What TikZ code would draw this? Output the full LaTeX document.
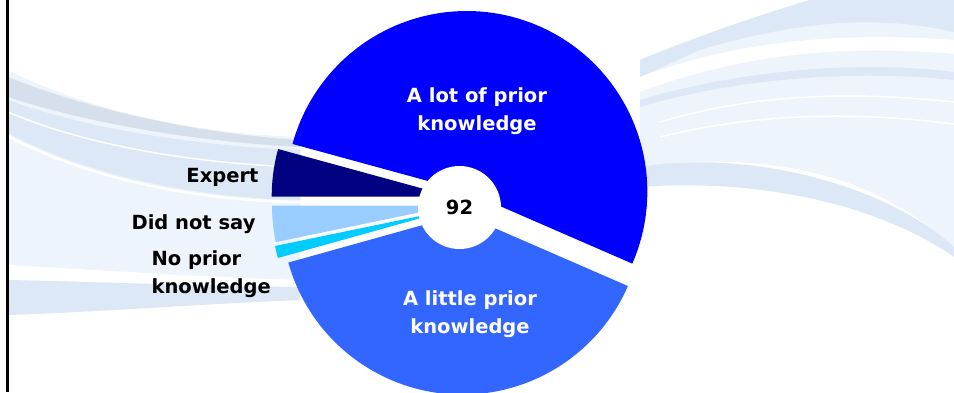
\documentclass[tikz,border=0pt]{standalone}
\usepackage{fontspec}
\setmainfont{DejaVu Sans}
\usepackage{tikz}
\definecolor{lotblue}{RGB}{0,0,255}
\definecolor{littleblue}{RGB}{51,102,255}
\definecolor{expertblue}{RGB}{0,0,128}
\definecolor{saysblue}{RGB}{153,204,255}
\definecolor{noneblue}{RGB}{0,204,255}
\definecolor{swoosh}{RGB}{220,232,246}
\definecolor{greyswoosh}{RGB}{214,224,236}
\definecolor{paleswoosh}{RGB}{238,244,251}
\tikzset{
    > = latex
}

\begin{document}
\begin{tikzpicture}[x=1pt, y=1pt]
        \tikzstyle{inlbl}=[text=white, font=\fontsize{19.5}{28}\selectfont\bfseries, align=center]
        \tikzstyle{outlbl}=[text=black, font=\fontsize{19.5}{28}\selectfont\bfseries]
        \useasboundingbox (0,0) rectangle (954,392);
        \clip (0,0) rectangle (954,392);
        \fill[white] (0,0) rectangle (954,392);
        \fill[paleswoosh] (8,322) .. controls (90,280) and (200,258) .. (300,255) -- (300,92) .. controls (200,90) and (90,82) .. (8,77) -- cycle;
        \fill[greyswoosh] (8,315) .. controls (90,282) and (200,258) .. (300,252) -- (300,245) .. controls (200,250) and (90,268) .. (8,295) -- cycle;
        \fill[swoosh] (8,292) .. controls (90,262) and (200,246) .. (300,242) -- (300,192) .. controls (200,194) and (90,215) .. (8,259) -- cycle;
        \draw[white, line width=2.5] (8,256) .. controls (90,212) and (200,191) .. (300,190);
        \draw[white, line width=1.5] (8,280) .. controls (90,245) and (200,228) .. (300,225);
        \fill[white] (8,127) .. controls (100,122) and (200,115) .. (300,112) -- (300,105) .. controls (200,106) and (100,110) .. (8,112) -- cycle;
        \fill[swoosh] (8,112) .. controls (100,110) and (200,106) .. (300,105) -- (300,92) .. controls (200,88) and (100,80) .. (8,77) -- cycle;
        \fill[paleswoosh] (640,332) .. controls (720,360) and (770,380) .. (810,392) -- (954,392) -- (954,142) .. controls (880,220) and (760,242) .. (640,225) -- cycle;
        \fill[swoosh] (640,332) .. controls (700,357) and (760,377) .. (810,392) -- (954,392) -- (954,360) .. controls (880,377) and (800,372) .. (700,342) -- (640,315) -- cycle;
        \fill[white] (640,315) .. controls (720,345) and (820,362) .. (954,352) -- (954,338) .. controls (820,350) and (720,330) .. (640,300) -- cycle;
        \fill[swoosh] (640,292) .. controls (740,322) and (860,332) .. (954,320) -- (954,312) .. controls (860,322) and (740,315) .. (640,285) -- cycle;
        \draw[white, line width=1.5] (660,270) .. controls (760,300) and (860,300) .. (954,290);
        \draw[white, line width=1.5] (660,255) .. controls (760,280) and (860,280) .. (954,268);
        \fill[swoosh] (640,225) .. controls (740,242) and (880,212) .. (954,145) -- (954,135) .. controls (880,187) and (760,214) .. (640,205) -- cycle;
        \fill[black] (6,0) rectangle (8.5,392);
        \fill[lotblue] (466.7,200.4) -- ++(-23.5:180.6) arc (-23.5:164.7:180.6) -- cycle;
        \fill[expertblue] (452.3,195.3) -- ++(164.7:180.6) arc (164.7:180:180.6) -- cycle;
        \fill[saysblue] (452.6,186.5) -- ++(180:180.6) arc (180:191.7:180.6) -- cycle;
        \fill[noneblue] (451.9,182.6) -- ++(191.7:180.6) arc (191.7:195.6:180.6) -- cycle;
        \fill[littleblue] (462.3,178) -- ++(195.6:180.6) arc (195.6:336.5:180.6) -- cycle;
        \node[circle, fill=white, minimum size=83, inner sep=0, font=\fontsize{19.5}{28}\selectfont\bfseries] (total) at (459.5,184.5) {92};
        \node[inlbl] (lot) at (477,280.5) {A lot of prior\\knowledge};
        \node[inlbl] (little) at (470,77.5) {A little prior\\knowledge};
        \node[outlbl, anchor=east] (expert) at (262,215) {Expert};
        \node[outlbl, anchor=east] (says) at (259,168) {Did not say};
        \node[outlbl, anchor=west, align=left] (none) at (148,118) {No prior\\knowledge};
    \end{tikzpicture}
\end{document}
